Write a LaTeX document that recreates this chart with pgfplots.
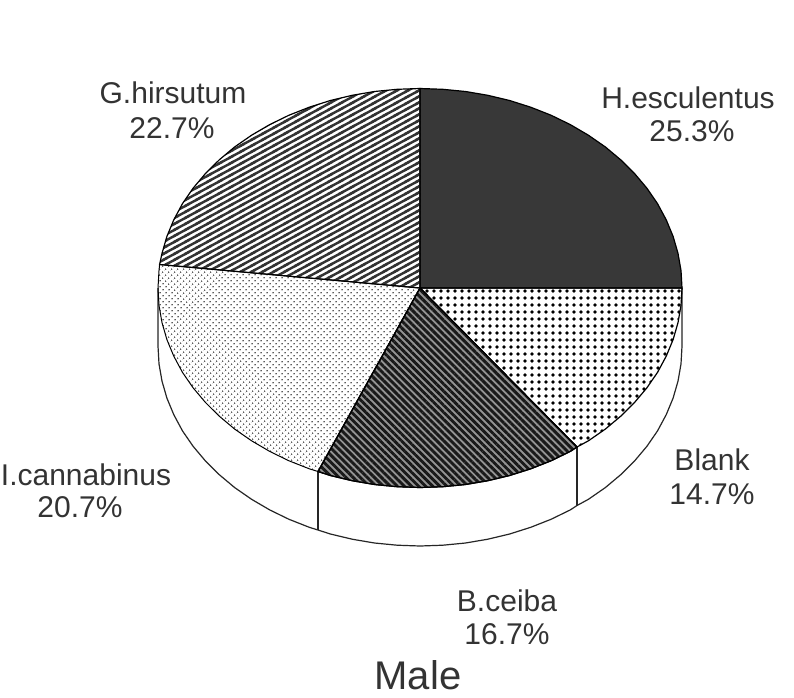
\documentclass[border=0pt]{standalone}
\usepackage{pgfplots}
\pgfplotsset{compat=1.18}
\usepackage{fontspec}
\setmainfont{Liberation Sans}
\usetikzlibrary{patterns,patterns.meta}
\pgfdeclarepatternformonly{hatchg}{\pgfqpoint{-3pt}{-3pt}}{\pgfqpoint{14pt}{10pt}}{\pgfqpoint{11pt}{6pt}}{%
  \pgfsetlinewidth{2.4pt}\pgfsetbuttcap
  \pgfpathmoveto{\pgfqpoint{-3pt}{-1.636pt}}%
  \pgfpathlineto{\pgfqpoint{14pt}{7.636pt}}%
  \pgfusepath{stroke}}
\newcommand{\lab}[1]{\fontsize{30}{34}\selectfont #1}
\begin{document}
\begin{tikzpicture}
\path[use as bounding box] (0,0) rectangle (794pt,697pt);
\begin{axis}[at={(0,0)},anchor=south west,scale only axis,width=794pt,height=697pt,
  xmin=0,xmax=794,ymin=0,ymax=697,y dir=reverse,hide axis,clip=false]
% side wall
\addplot[draw=black!85,line width=1.2pt,fill=white,mark=none] coordinates {
(682,288)(682,346)(681,363.9)(678,381.1)(673.1,398.1)(666.2,414.7)(657.5,430.9)(646.9,446.3)(634.6,460.9)(620.7,474.7)(605.3,487.6)(588.4,499.3)(577,505.5)(570.3,509.9)(551,519.3)(530.7,527.3)(509.6,534)(487.8,539.2)(465.5,543)(442.8,545.2)(420,546)(397.2,545.2)(374.5,543)(352.2,539.2)(330.4,534)(318,530)(309.3,527.3)(289,519.3)(269.7,509.9)(251.6,499.3)(234.7,487.6)(219.3,474.7)(205.4,460.9)(193.1,446.3)(182.5,430.9)(173.8,414.7)(166.9,398.1)(162,381.1)(159,363.9)(158,346)(158,288)
};
\addplot[draw=black!85,line width=1.2pt,mark=none] coordinates {(318,471.5)(318,530)};
\addplot[draw=black!85,line width=1.2pt,mark=none] coordinates {(577,447)(577,505.5)};
% H.esculentus 25.3
\addplot[draw=black,line width=1.2pt,fill=black!78,mark=none] coordinates {
(420,288)(420,88.5)(442.8,89.3)(465.5,91.5)(487.8,95.3)(509.6,100.5)(530.7,107.2)(551,115.2)(570.3,124.6)(588.4,135.2)(605.3,146.9)(620.7,159.8)(634.6,173.6)(646.9,188.2)(657.5,203.6)(666.2,219.8)(673.1,236.4)(678,253.4)(681,270.6)(682,288)(420,288)
};
% Blank 14.7
\addplot[draw=black,line width=1.2pt,pattern={Dots[distance=7pt,radius=1.9pt]},pattern color=black,mark=none] coordinates {
(420,288)(682,288)(681,305.4)(678,322.6)(673.1,339.6)(666.2,356.2)(657.5,372.4)(646.9,387.8)(634.6,402.4)(620.7,416.2)(605.3,429.1)(588.4,440.8)(577,447)(420,288)
};
% B.ceiba 16.7
\addplot[draw=black,line width=1.2pt,preaction={fill=black!42},pattern={Lines[angle=-45,distance=5pt,line width=2.9pt]},pattern color=black!90,mark=none] coordinates {
(420,288)(577,447)(570.3,451.4)(551,460.8)(530.7,468.8)(509.6,475.5)(487.8,480.7)(465.5,484.5)(442.8,486.7)(420,487.5)(397.2,486.7)(374.5,484.5)(352.2,480.7)(330.4,475.5)(318,471.5)(420,288)
};
% I.cannabinus 20.7
\addplot[draw=black,line width=1pt,pattern={Dots[angle=45,distance=4pt,radius=0.9pt]},pattern color=black!70,mark=none] coordinates {
(420,288)(318,471.5)(309.3,468.8)(289,460.8)(269.7,451.4)(251.6,440.8)(234.7,429.1)(219.3,416.2)(205.4,402.4)(193.1,387.8)(182.5,372.4)(173.8,356.2)(166.9,339.6)(162,322.6)(159,305.4)(158,288)(159,270.6)(159.6,264.5)(420,288)
};
% G.hirsutum 22.7
\addplot[draw=black,line width=1.2pt,pattern=hatchg,pattern color=black!80,mark=none] coordinates {
(420,288)(159.6,264.5)(162,253.4)(166.9,236.4)(173.8,219.8)(182.5,203.6)(193.1,188.2)(205.4,173.6)(219.3,159.8)(234.7,146.9)(251.6,135.2)(269.7,124.6)(289,115.2)(309.3,107.2)(330.4,100.5)(352.2,95.3)(374.5,91.5)(397.2,89.3)(420,88.5)(420,288)
};
\foreach \x/\y/\t in {173/93/G.hirsutum,172/128/22.7\%,688/98/H.esculentus,692/131/25.3\%,712/460/Blank,712/494/14.7\%,507/601/B.ceiba,507/634/16.7\%,86/475/I.cannabinus,80/507/20.7\%}{
  \edef\tmp{\noexpand\node[text=black!80,inner sep=0pt] at (axis cs:\x,\y) {\noexpand\lab{\t}};}\tmp
}
\node[text=black!80,inner sep=0pt] at (axis cs:418,675) {\fontsize{40}{44}\selectfont Male};
\end{axis}
\end{tikzpicture}
\end{document}
